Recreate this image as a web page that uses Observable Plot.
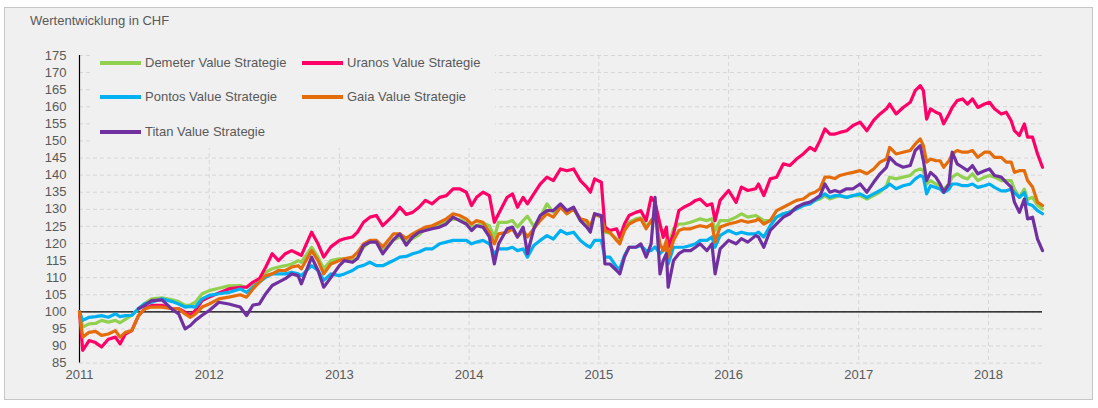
<!DOCTYPE html>
<html><head><meta charset="utf-8">
<script src="https://cdn.jsdelivr.net/npm/d3@7"></script>
<script src="https://cdn.jsdelivr.net/npm/@observablehq/plot@0.6"></script>
<style>
body{margin:0;background:#fff;font-family:"Liberation Sans",Arial,sans-serif;}
#wrap{position:relative;width:1098px;height:408px;overflow:hidden;}
#panel{position:absolute;left:4px;top:7px;width:1087px;height:391px;background:#f0f0f0;border:1px solid #c6c6c6;}
#title{position:absolute;left:30px;top:13px;font-size:13px;color:#595959;line-height:15px;white-space:nowrap;}
#chart{position:absolute;left:0;top:0;}
#legend{position:absolute;left:92px;top:47px;width:403px;height:101px;background:#f0f0f0;}
.item{position:absolute;height:16px;font-size:13px;color:#595959;line-height:16px;white-space:nowrap;}
.sw{position:absolute;left:0;top:6px;width:41px;height:4px;}
.lb{position:absolute;left:45px;top:0;}
</style>
</head><body>
<div id="wrap">
  <div id="panel"></div>
  <div id="chart"></div>
  <div id="legend"></div>
  <div id="title">Wertentwicklung in CHF</div>
</div>
<script>
// ---- data ----
const dates = [
"2011-01-01","2011-01-10","2011-01-28","2011-02-15","2011-03-04","2011-03-23","2011-04-12","2011-04-25","2011-05-10","2011-05-28",
"2011-06-16","2011-07-04","2011-07-23","2011-08-21","2011-09-19","2011-10-07","2011-10-25","2011-11-09","2011-11-23","2011-12-12",
"2012-01-01","2012-01-28","2012-02-25","2012-03-28","2012-04-15","2012-05-03","2012-05-21","2012-06-08","2012-06-26","2012-07-14",
"2012-08-02","2012-08-20","2012-09-07","2012-09-16","2012-10-15","2012-11-02","2012-11-18","2012-12-08",
"2013-01-01","2013-01-15","2013-02-07","2013-02-21","2013-03-10","2013-03-28","2013-04-15","2013-05-03","2013-06-02","2013-06-20",
"2013-07-08","2013-07-26","2013-08-13","2013-08-31","2013-09-19","2013-10-10","2013-10-29","2013-11-17","2013-12-05","2013-12-24",
"2014-01-08","2014-01-22","2014-02-09","2014-02-27","2014-03-13","2014-03-25","2014-04-18","2014-05-03","2014-05-17","2014-06-02",
"2014-06-14","2014-07-02","2014-07-20","2014-08-08","2014-08-26","2014-09-15","2014-10-03","2014-10-22","2014-11-10","2014-11-28",
"2014-12-08","2014-12-20",
"2015-01-08","2015-01-18","2015-02-01","2015-02-20","2015-03-01","2015-03-14","2015-03-27","2015-04-15","2015-04-29","2015-05-14",
"2015-05-28","2015-06-08","2015-06-22","2015-07-01","2015-07-10","2015-07-15","2015-07-30","2015-08-14","2015-08-28","2015-09-16",
"2015-09-30","2015-10-13","2015-11-01","2015-11-15","2015-11-24","2015-12-08",
"2016-01-01","2016-01-22","2016-02-06","2016-02-24","2016-03-17","2016-03-25","2016-04-09","2016-04-27","2016-05-15","2016-06-03",
"2016-06-21","2016-07-10","2016-07-29","2016-08-17","2016-08-31","2016-09-14","2016-09-28","2016-10-12","2016-10-26","2016-11-09",
"2016-11-28","2016-12-16",
"2017-01-05","2017-01-24","2017-02-12","2017-03-02","2017-03-20","2017-03-29","2017-04-16","2017-05-06","2017-05-26","2017-06-09",
"2017-06-23","2017-07-02","2017-07-11","2017-07-22","2017-08-06","2017-08-18","2017-08-28","2017-09-12","2017-09-21","2017-10-05",
"2017-10-20","2017-11-03","2017-11-17","2017-12-02","2017-12-21",
"2018-01-04","2018-01-18","2018-02-06","2018-02-20","2018-03-06","2018-03-15","2018-03-29","2018-04-12","2018-04-21","2018-05-05",
"2018-05-19","2018-06-02"
];

const demeter = [
100,95.5,96.5,96.6,97.5,97.0,97.5,96.8,97.8,99.0,
100.8,102.5,103.8,104.1,103.5,103.0,101.9,102.0,102.8,105.3,
106.2,106.9,107.6,107.7,107.2,108.2,109.5,111.6,112.6,113.1,
113.5,114.0,115.0,114.5,118.9,116.0,112.6,115.0,
115.5,115.5,115.0,115.9,118.9,120.4,120.9,117.9,121.0,121.9,
120.4,121.4,122.5,124.3,124.8,125.7,126.5,127.2,127.0,126.2,
124.8,125.2,126.0,125.2,121.9,126.2,126.2,126.7,124.8,126.7,
128.0,125.0,127.7,131.6,129.1,130.6,128.7,130.1,126.7,125.7,
124.8,128.2,
128.0,123.3,123.0,121.4,120.4,124.0,126.2,127.2,127.5,125.2,
126.2,127.5,124.0,123.8,124.0,119.0,124.3,125.7,125.7,126.2,
126.7,127.2,126.7,127.2,123.8,126.7,
126.7,127.7,128.7,127.7,128.2,127.7,126.7,126.7,127.7,128.7,
129.2,130.6,131.1,132.1,132.6,133.0,134.0,133.0,133.5,134.0,
133.5,134.0,
134.0,133.0,134.0,135.0,136.9,139.4,138.9,139.4,139.9,141.3,
141.8,141.3,137.4,138.4,137.4,136.9,135.9,137.4,139.4,140.4,
139.4,138.9,140.4,138.4,139.4,
139.9,139.4,138.4,138.4,138.4,135.9,133.5,135.9,132.9,133.5,
131.1,130.1
];

const uranos = [
100,88.7,91.6,91.0,89.7,92.0,92.6,90.6,93.5,94.5,
98.9,100.9,101.9,101.9,100.9,100.9,99.9,98.9,100.4,103.3,
104.3,105.5,106.7,107.2,107.2,108.7,109.7,113.1,117.0,115.0,
117.0,117.9,117.0,116.5,123.3,119.9,116.0,119.0,
120.9,121.4,121.9,123.3,126.2,127.7,128.2,125.2,128.2,130.6,
128.5,129.1,130.6,132.6,131.6,133.5,134.0,136.0,136.0,135.0,
131.1,133.5,135.0,134.0,126.2,128.7,133.5,134.5,130.6,133.5,
131.6,134.5,137.4,139.4,138.4,141.8,141.3,141.8,138.4,136.5,
135.0,138.9,
137.9,124.8,123.8,124.3,121.8,125.7,128.2,129.1,129.6,126.7,
133.5,132.0,125.7,121.8,124.8,118.9,122.8,129.6,130.6,131.6,
132.6,133.0,131.1,131.6,126.7,132.6,
135.5,132.0,136.5,135.5,136.0,137.4,134.0,138.9,139.4,143.3,
142.8,144.7,146.2,148.1,147.2,150.1,153.5,152.0,152.0,152.5,
153.0,154.5,
155.5,153.0,156.0,157.9,159.4,160.8,157.9,159.8,161.3,164.7,
166.2,164.7,156.4,159.4,158.4,157.9,155.0,157.9,159.8,161.8,
162.3,160.8,162.3,159.8,160.8,
161.3,159.4,157.9,158.4,155.9,153.0,151.6,155.0,151.1,151.1,
146.2,142.3
];

const pontos = [
100,97.5,98.4,98.6,98.9,98.4,99.4,98.6,98.9,99.0,
101.0,102.4,102.8,103.8,103.0,102.3,101.4,101.6,101.4,103.8,
104.8,105.3,105.7,106.7,105.7,107.2,108.7,110.1,111.1,111.1,
111.1,111.6,111.1,110.6,113.5,112.1,109.2,111.1,
110.6,111.1,112.1,113.1,113.6,114.5,113.5,113.5,115.0,116.0,
116.2,117.0,117.5,118.4,118.4,119.9,120.4,120.9,120.9,120.9,
119.9,120.4,120.9,119.9,117.0,118.4,118.4,118.9,117.9,118.4,
116.0,119.4,120.9,122.3,121.3,123.8,122.8,123.3,120.9,119.4,
118.9,120.9,
120.9,116.0,116.0,113.1,112.6,116.5,118.9,118.9,119.4,117.9,
117.9,119.0,117.0,118.0,118.9,114.0,118.9,118.9,118.9,119.4,
119.9,120.9,120.9,121.9,118.9,122.3,
123.8,122.8,123.3,122.8,122.8,123.3,121.9,125.2,127.7,128.7,
129.2,130.1,131.1,131.6,132.6,133.5,134.5,133.5,134.0,134.0,
133.5,134.0,
134.5,133.5,134.5,135.5,136.5,137.4,136.0,136.9,137.4,138.9,
139.9,139.4,134.5,136.9,136.4,135.9,134.9,135.9,137.4,137.4,
136.9,136.9,137.4,136.4,136.9,
137.4,136.4,135.4,135.4,135.9,134.9,133.5,134.9,131.6,131.1,
129.6,128.7
];

const gaia = [
100,92.6,94.0,94.3,93.1,93.5,94.5,92.6,94.0,94.5,
98.9,100.9,101.4,101.4,100.9,100.9,99.4,98.4,99.4,101.4,
102.3,103.8,104.3,105.0,104.3,106.7,108.7,110.6,111.1,112.1,
112.1,113.1,113.5,112.6,117.9,115.0,111.1,114.0,
115.0,115.5,116.0,117.4,119.9,120.9,120.9,119.0,122.8,122.8,
121.5,122.8,123.8,124.8,125.2,126.2,127.2,128.7,128.2,127.2,
125.7,126.7,126.2,123.3,119.9,122.8,123.3,124.3,121.9,123.8,
121.9,124.3,126.7,128.7,127.7,130.6,128.7,130.1,127.2,126.7,
124.8,128.7,
127.7,123.8,123.3,120.9,119.9,123.8,125.7,126.7,127.2,124.3,
126.7,128.0,119.9,117.9,120.9,115.9,120.9,123.8,124.3,124.3,
124.8,125.2,124.8,125.7,120.4,124.8,
125.7,126.2,126.7,126.2,126.7,127.2,125.7,126.7,129.6,130.6,
131.6,132.6,133.0,134.5,135.0,136.0,139.4,139.4,139.0,139.9,
140.4,140.8,
141.3,140.4,141.8,143.8,144.7,148.1,146.2,146.7,147.2,149.1,
150.6,148.6,143.8,144.7,144.2,144.2,142.3,144.2,146.2,147.2,
146.7,146.7,147.2,145.2,146.7,
146.7,145.2,145.2,143.8,143.8,140.8,141.3,141.3,138.4,136.5,
132.1,131.1
];

const titan = [
null,null,null,null,null,null,null,null,null,null,
100.9,101.9,103.3,103.5,100.7,99.4,95.0,96.0,97.5,99.0,
100.4,102.8,102.3,101.4,98.9,102.0,102.3,105.3,107.7,108.7,
109.7,111.1,110.6,108.2,116.0,112.1,107.2,110.0,
113.5,115.0,114.5,115.6,119.4,120.4,120.4,117.0,121.1,122.8,
119.5,121.9,123.3,123.8,124.3,124.8,125.7,127.7,126.7,125.7,
123.8,125.2,124.8,121.9,114.0,119.9,124.3,124.8,121.9,124.8,
117.0,124.3,128.2,129.6,129.6,131.6,129.6,130.6,126.7,124.8,
123.3,128.7,
128.2,114.0,114.0,112.1,111.1,116.0,118.9,118.9,119.9,116.0,
119.9,133.5,111.1,115.0,117.0,107.2,115.0,117.0,117.9,117.9,
118.9,119.9,117.9,119.9,111.1,118.4,
120.9,119.9,121.4,120.4,122.3,121.9,118.9,123.8,125.7,127.7,
128.7,130.6,131.6,132.1,133.0,134.0,137.4,135.0,135.5,135.0,
136.0,136.0,
137.4,135.0,137.9,140.4,142.3,145.2,143.3,142.3,142.8,147.2,
148.6,144.2,138.4,140.8,139.4,137.4,135.0,137.4,146.7,143.3,
142.3,141.3,142.8,140.4,141.3,
141.8,139.9,139.4,137.9,136.5,132.1,129.1,133.0,127.2,127.7,
121.3,117.9
];

const seriesNames = ["Demeter Value Strategie","Uranos Value Strategie","Pontos Value Strategie","Gaia Value Strategie","Titan Value Strategie"];
const seriesColors = ["#92d050","#ff0066","#00b0f0","#e46c0a","#7030a0"];
const yTicks = [85,90,95,100,105,110,115,120,125,130,135,140,145,150,155,160,165,170,175];
const xTickYears = ["2011","2012","2013","2014","2015","2016","2017","2018"];
const xDomainEnd = "2018-06-02";

// ---- build table ----
const parse = d3.utcParse("%Y-%m-%d");
const valueArrays = [demeter, uranos, pontos, gaia, titan];
const rows = [];
valueArrays.forEach((arr, si) => {
  dates.forEach((d, i) => {
    const v = arr[i];
    if (v != null) rows.push({date: parse(d), value: v, series: seriesNames[si]});
  });
});
const xTicks = xTickYears.map(y => parse(y + "-01-01"));

const chart = Plot.plot({
  width: 1098,
  height: 408,
  marginLeft: 79,
  marginRight: 56,
  marginTop: 55,
  marginBottom: 45.4,
  style: {background: "transparent", fontFamily: "'Liberation Sans', Arial, sans-serif", fontSize: "13px", color: "#595959"},
  x: {type: "utc", domain: [xTicks[0], parse(xDomainEnd)]},
  y: {domain: [85, 175]},
  color: {domain: seriesNames, range: seriesColors},
  marks: [
    Plot.gridY(yTicks, {stroke: "#d6d6d6", strokeOpacity: 1, strokeDasharray: "4,3"}),
    Plot.gridX(xTicks.slice(1), {stroke: "#d6d6d6", strokeOpacity: 1, strokeDasharray: "4,3"}),
    Plot.axisY(yTicks, {tickSize: 0, tickPadding: 13, label: null, fill: "#595959"}),
    Plot.axisX(xTicks, {tickSize: 0, tickPadding: 7, tickFormat: d3.utcFormat("%Y"), label: null, fill: "#595959"}),
    Plot.ruleY([100], {stroke: "#000", strokeWidth: 1.2}),
    Plot.ruleX([xTicks[0]], {stroke: "#000", strokeWidth: 1.2}),
    Plot.line(rows, {x: "date", y: "value", z: "series", stroke: "series", strokeWidth: 3.2})
  ]
});
document.getElementById("chart").appendChild(chart);

// ---- legend ----
const legend = document.getElementById("legend");
const pos = [[8,8],[210,8],[8,42],[210,42],[8,77]];
const legendOrder = [0,1,2,3,4];
legendOrder.forEach((si, k) => {
  const it = document.createElement("div");
  it.className = "item";
  it.style.left = pos[k][0] + "px";
  it.style.top = pos[k][1] + "px";
  const sw = document.createElement("div");
  sw.className = "sw";
  sw.style.background = seriesColors[si];
  const lb = document.createElement("div");
  lb.className = "lb";
  lb.textContent = seriesNames[si];
  it.appendChild(sw); it.appendChild(lb);
  legend.appendChild(it);
});
</script>
</body></html>
